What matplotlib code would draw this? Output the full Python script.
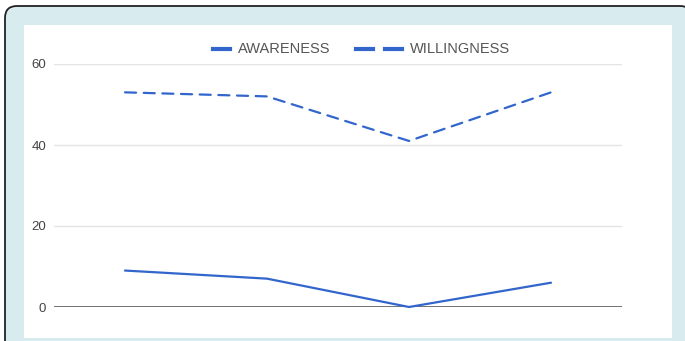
import matplotlib.pyplot as plt
from matplotlib.patches import FancyBboxPatch, Rectangle
from matplotlib.lines import Line2D
from matplotlib.transforms import IdentityTransform

plt.rcParams['font.family'] = ['Liberation Sans', 'DejaVu Sans']

categories = ["Q1", "Q2", "Q3", "Q4"]
awareness = [9, 7, 0, 6]
willingness = [53, 52, 41, 53]
y_ticks = [0, 20, 40, 60]

BLUE = "#3366cc"
W, H = 685, 341

fig = plt.figure(figsize=(W / 100, H / 100), dpi=100)
fig.patch.set_facecolor("white")

def px(x, y):
    # pixel position (from top-left) -> figure fraction
    return x / W, 1 - y / H

# rounded frame (drawn in pixels so the corners stay circular)
frame = FancyBboxPatch((5, -30), 692 - 5, (H - 6) + 30,
                       boxstyle="round,pad=0,rounding_size=12",
                       transform=IdentityTransform(), facecolor="#d8ecf0",
                       edgecolor="#222222", linewidth=1.3, zorder=0)
fig.patches.append(frame)
cx0, cy0 = px(24, 338)
cx1, cy1 = px(672, 25)
card = Rectangle((cx0, cy0), cx1 - cx0, cy1 - cy0, transform=fig.transFigure,
                 facecolor="white", edgecolor="none", zorder=1)
fig.patches.append(card)

ax = fig.add_axes([54 / W, 34 / H, 568 / W, 243 / H])
ax.set_facecolor("none")
ax.set_zorder(2)

x = range(len(categories))
ax.plot(x, awareness, color=BLUE, linewidth=1.6, solid_capstyle="round",
        zorder=4, clip_on=False)
ax.plot(x, willingness, color=BLUE, linewidth=1.6, dashes=(5, 3.4),
        dash_capstyle="round", zorder=4, clip_on=False)

ax.set_xlim(-0.5, len(categories) - 0.5)
ax.set_ylim(0, 60)
ax.set_yticks(y_ticks)
ax.set_xticks([])
for v in y_ticks[1:]:
    ax.axhline(v, color="#e4e4e4", linewidth=1.0, zorder=1)
ax.axhline(0, color="#5a5a5a", linewidth=1.2, zorder=3)
for s in ax.spines.values():
    s.set_visible(False)
ax.tick_params(axis="y", length=0, pad=5.5, labelsize=9.5, labelcolor="#444444")

# legend across the top
ly = 1 - 49 / H
fig.add_artist(Line2D([213 / W, 230 / W], [ly, ly], color=BLUE, linewidth=3,
                      transform=fig.transFigure))
fig.text(238 / W, ly, "AWARENESS", fontsize=10.5, color="#555555",
         va="center", ha="left")
for a, b in [(356, 373), (385, 402)]:
    fig.add_artist(Line2D([a / W, b / W], [ly, ly], color=BLUE, linewidth=3,
                          transform=fig.transFigure))
fig.text(410 / W, ly, "WILLINGNESS", fontsize=10.5, color="#555555",
         va="center", ha="left")

fig.savefig("out.png", dpi=100)
